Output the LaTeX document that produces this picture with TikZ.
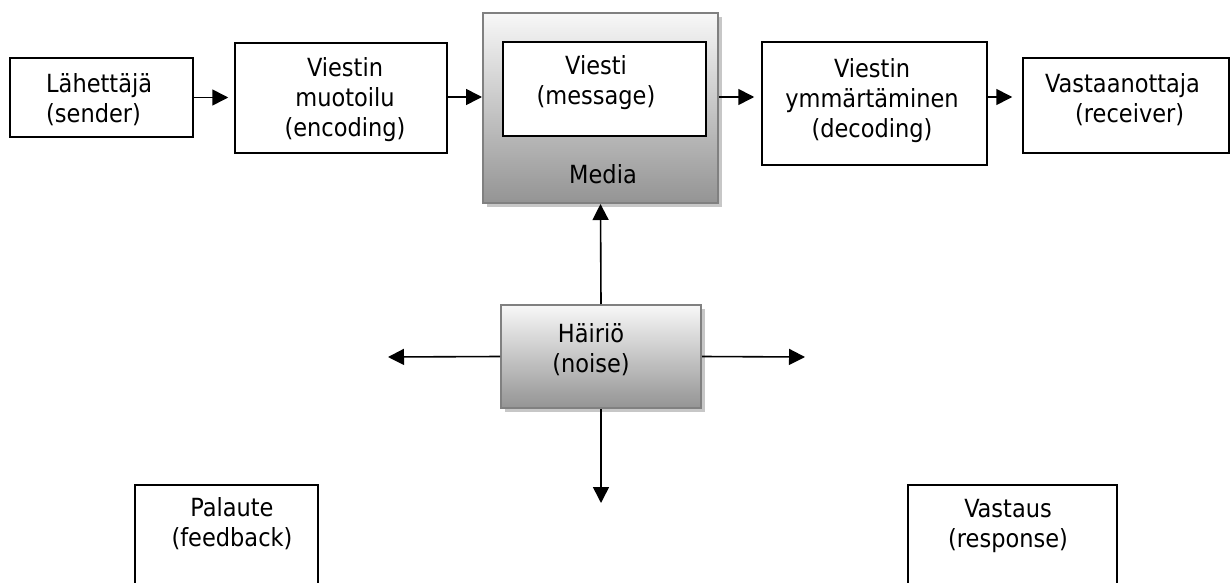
\documentclass[tikz,border=0pt]{standalone}
\usepackage{fontspec}
\setmainfont{DejaVu Sans Condensed}
\usetikzlibrary{arrows.meta,shadows}
\begin{document}
\begin{tikzpicture}[x=1pt,y=-1pt,
  box/.style={draw=black, line width=1.5pt, fill=white, inner sep=0pt},
  grad/.style={draw=black!50, line width=2pt, top color=black!3, bottom color=black!42,
    inner sep=0pt, drop shadow={shadow xshift=4pt, shadow yshift=-4pt, fill=black!22, opacity=1}},
  lbl/.style={font=\fontsize{25}{30}\selectfont, inner sep=0pt, align=center, anchor=base},
  arr/.style={line width=1.6pt, -{Triangle[length=16pt,width=16pt]}}]
\useasboundingbox (0,0) rectangle (1231,583);
\clip (0,0) rectangle (1231,583);

% boxes
\node[box, minimum width=183pt, minimum height=79pt]  (sender) at (101.5,97.5) {};
\node[box, minimum width=212pt, minimum height=110pt] (enc)    at (341,98) {};
\node[grad, minimum width=235pt, minimum height=190pt] (media) at (600.5,108) {};
\node[box, minimum width=203pt, minimum height=94pt]  (msg)    at (604.5,89) {};
\node[box, minimum width=225pt, minimum height=123pt] (dec)    at (874.5,103.5) {};
\node[box, minimum width=206pt, minimum height=95pt]  (recv)   at (1126,105.5) {};
\node[grad, minimum width=200pt, minimum height=103pt] (noise) at (601,356.5) {};
\node[box, minimum width=183pt, minimum height=120pt] (fb)     at (226.5,545) {};
\node[box, minimum width=209pt, minimum height=120pt] (resp)   at (1012.5,545) {};

% labels (anchored on the baseline of their last line)
\node[lbl, align=left, anchor=base west] (tsender) at (46,123) {Lähettäjä\\(sender)};
\node[lbl] (tenc)   at (345,137) {Viestin\\muotoilu\\(encoding)};
\node[lbl] (tmsg)   at (596,105) {Viesti\\(message)};
\node[lbl] (tmedia) at (603,183) {Media};
\node[lbl] (tdec)   at (872,138) {Viestin\\ymmärtäminen\\(decoding)};
\node[lbl, align=left, anchor=base west] (trecv) at (1045,123) {Vastaanottaja\\\hspace*{30pt}(receiver)};
\node[lbl] (tnoise) at (591,372) {Häiriö\\(noise)};
\node[lbl] (tfb)    at (232,546) {Palaute\\(feedback)};
\node[lbl] (tresp)  at (1008,547) {Vastaus\\(response)};

% connectors
\coordinate (row) at (0,97);
\coordinate (nl) at (388,357);
\coordinate (nr) at (805,357);
\coordinate (nd) at (601,503);
\draw[arr, shorten >=6pt] (sender.east) -- (sender.east -| enc.west);
\draw[arr] (enc.east |- row) -- (media.west |- row);
\draw[arr, shorten >=7pt] (media.east |- row) -- (dec.west |- row);
\draw[arr, shorten >=10pt] (dec.east |- row) -- (recv.west |- row);
\draw[arr] (noise.north) -- (media.south);
\draw[arr] (noise.west) -- (nl);
\draw[arr] (noise.east) -- (nr);
\draw[arr] (noise.south) -- (nd);
\end{tikzpicture}
\end{document}
